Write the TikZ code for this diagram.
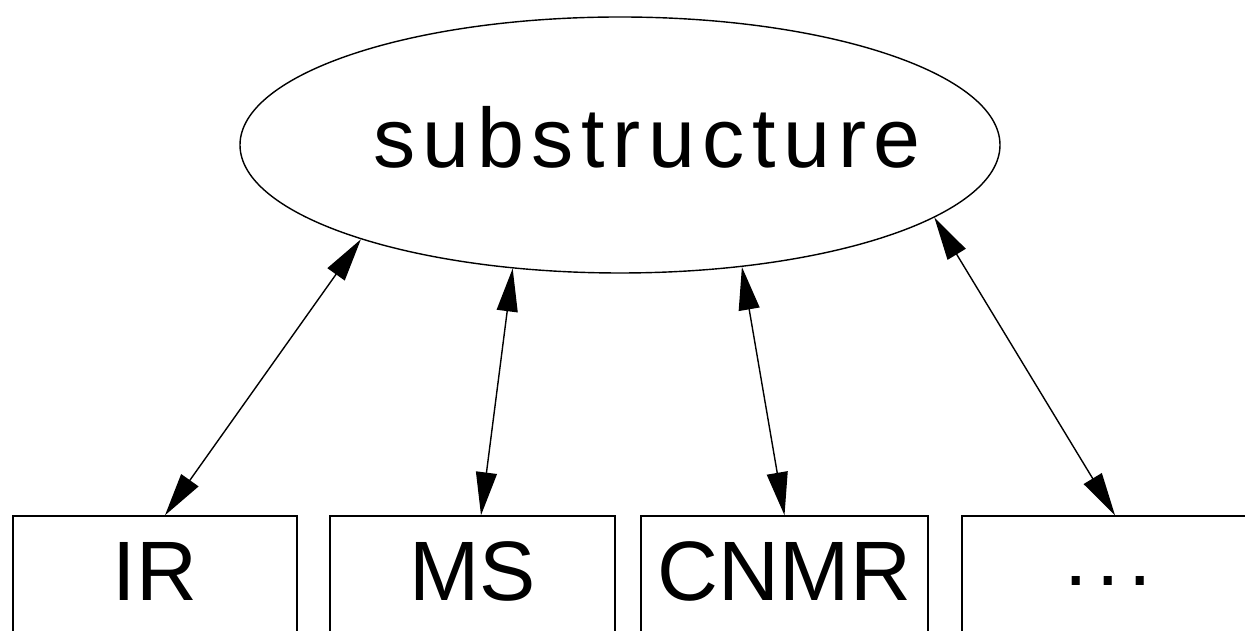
\documentclass[tikz,border=0pt]{standalone}
\usepackage{fontspec}
\setmainfont{Liberation Sans}
\usepackage{tikz}
\usetikzlibrary{arrows.meta,shapes.geometric,positioning}

\tikzset{
  method/.style={draw, line width=0.8pt, inner sep=0pt, minimum height=2.4cm,
    text height=34pt, text depth=0.2cm, font=\fontsize{48}{48}\selectfont},
  link/.style={line width=0.8pt,
    {Triangle[length=0.86cm,width=0.42cm]}-{Triangle[length=0.86cm,width=0.42cm]}}
}

\begin{document}
\begin{tikzpicture}
    \useasboundingbox (0,0) rectangle (24.9,12.62);
    \clip (0,0) rectangle (24.9,12.62);
    % the ellipse on top
    \node[draw, ellipse, line width=0.8pt, minimum width=15.2cm, minimum height=5.12cm,
      label={[font=\fontsize{48}{48}\selectfont\addfontfeatures{LetterSpace=9},
      xshift=0.54cm, yshift=0.15cm]center:substructure}] (sub) at (12.4,9.72) {};
    % the boxes below
    \node[method, minimum width=5.68cm] (ir) at (3.1,1.1) {IR};
    \node[method, minimum width=5.7cm] (ms) at (9.45,1.1) {MS};
    \node[method, minimum width=5.74cm] (cnmr) at (15.69,1.1) {CNMR};
    \node[method, minimum width=5.84cm] (more) at (22.16,1.1)
      {\raisebox{0.3cm}{\addfontfeatures{LetterSpace=10}...}};
    % links
    \draw[link] (sub.200) -- ([xshift=0.2cm]ir.north);
    \draw[link] (sub.229) -- ([xshift=0.17cm]ms.north);
    \draw[link] (sub.315) -- (cnmr.north);
    \draw[link] (sub.347) -- ([xshift=0.14cm]more.north);
\end{tikzpicture}
\end{document}
